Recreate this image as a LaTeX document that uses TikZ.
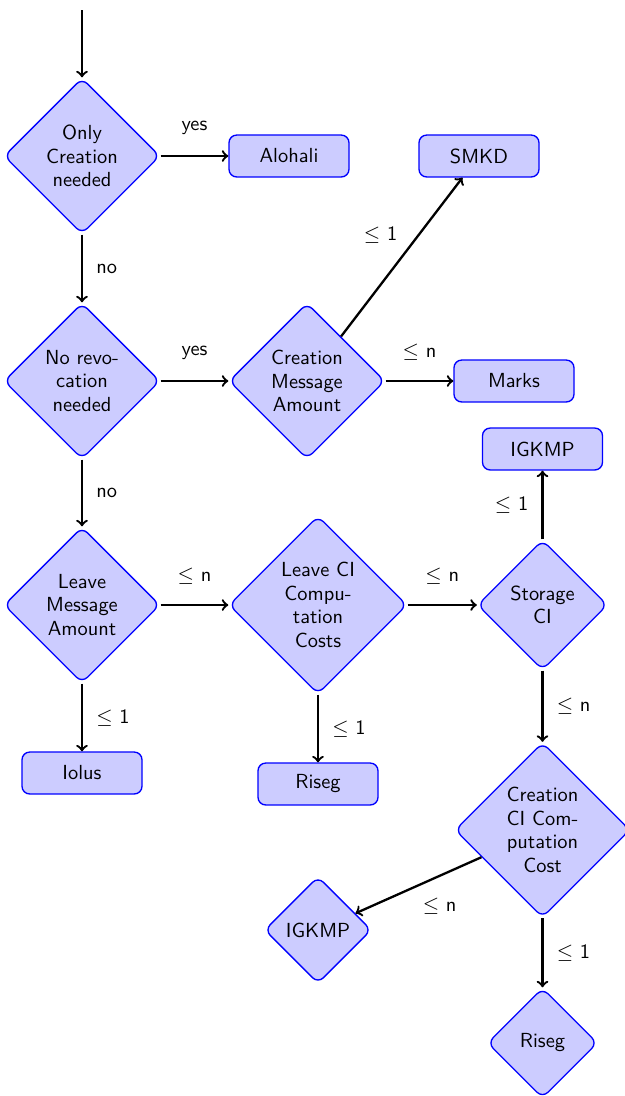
\documentclass[tikz,border=0pt]{standalone}
\usetikzlibrary{shapes.geometric}
\begin{document}
\begin{tikzpicture}[x=0.52pt,y=-0.52pt,
  txt/.style={font=\fontsize{10.6pt}{12.2pt}\selectfont\sffamily},
  decision/.style={txt, diamond, draw=blue, fill=blue!20, line width=0.7pt, rounded corners=4pt,
    align=center, inner sep=0pt},
  block/.style={txt, rectangle, draw=blue, fill=blue!20, line width=0.7pt, rounded corners=4pt,
    minimum width=62.4pt, minimum height=21.8pt, inner sep=0pt},
  arrow/.style={->, line width=1.2pt},
  lab/.style={txt}
]
\useasboundingbox (0,0) rectangle (625,1096);
\coordinate (start) at (82,10);
\node[decision, minimum width=81.1pt, minimum height=81.1pt] (D1) at (82,156) {Only\\Creation\\needed};
\node[block] (Alo) at (289,156) {Alohali};
\node[block] (SMKD) at (479,156) {SMKD};
\node[decision, minimum width=81.1pt, minimum height=81.1pt] (D2) at (82,381) {No revo-\\cation\\needed};
\node[decision, minimum width=81.1pt, minimum height=81.1pt] (D3) at (307,381) {Creation\\Message\\Amount};
\node[block] (Marks) at (514,381) {Marks};
\node[block] (IG1) at (542.5,449) {IGKMP};
\node[decision, minimum width=81.1pt, minimum height=81.1pt] (D4) at (82,605) {Leave\\Message\\Amount};
\node[decision, minimum width=92.6pt, minimum height=92.6pt] (D5) at (318,605) {Leave CI\\Compu-\\tation\\Costs};
\node[decision, minimum width=67.6pt, minimum height=67.6pt] (D6) at (542.5,605) {Storage\\CI};
\node[block] (Iolus) at (82,773) {Iolus};
\node[block] (Ris1) at (318,784) {Riseg};
\node[decision, minimum width=91pt, minimum height=91pt] (D7) at (542.5,830) {Creation\\CI Com-\\putation\\Cost};
\node[decision, minimum width=55.6pt, minimum height=55.6pt] (IG2) at (318,930) {IGKMP};
\node[decision, minimum width=57.2pt, minimum height=57.2pt] (Ris2) at (542.5,1043) {Riseg};

\draw[arrow] (start) -- (D1);
\draw[arrow] (D1) -- node[lab, yshift=14.5pt] {yes} (Alo);
\draw[arrow] (D1) -- node[lab, anchor=west, xshift=3.5pt] {no} (D2);
\draw[arrow] (D2) -- node[lab, yshift=14.5pt] {yes} (D3);
\draw[arrow] (D2) -- node[lab, anchor=west, xshift=3.5pt] {no} (D4);
\draw[arrow] (D3) -- node[lab, xshift=-11pt, yshift=11.5pt] {$\leq$ 1} (SMKD);
\draw[arrow] (D3) -- node[lab, yshift=15pt] {$\leq$ n} (Marks);
\draw[arrow] (D4) -- node[lab, yshift=15pt] {$\leq$ n} (D5);
\draw[arrow] (D4) -- node[lab, anchor=west, xshift=3.5pt] {$\leq$ 1} (Iolus);
\draw[arrow] (D5) -- node[lab, yshift=15pt] {$\leq$ n} (D6);
\draw[arrow] (D5) -- node[lab, anchor=west, xshift=3.5pt] {$\leq$ 1} (Ris1);
\draw[arrow] (D6) -- node[lab, anchor=east, xshift=-3.5pt] {$\leq$ 1} (IG1);
\draw[arrow] (D6) -- node[lab, anchor=west, xshift=3.5pt] {$\leq$ n} (D7);
\draw[arrow] (D7) -- node[lab, xshift=11pt, yshift=-11pt] {$\leq$ n} (IG2);
\draw[arrow] (D7) -- node[lab, anchor=west, xshift=3.5pt] {$\leq$ 1} (Ris2);
\end{tikzpicture}
\end{document}
